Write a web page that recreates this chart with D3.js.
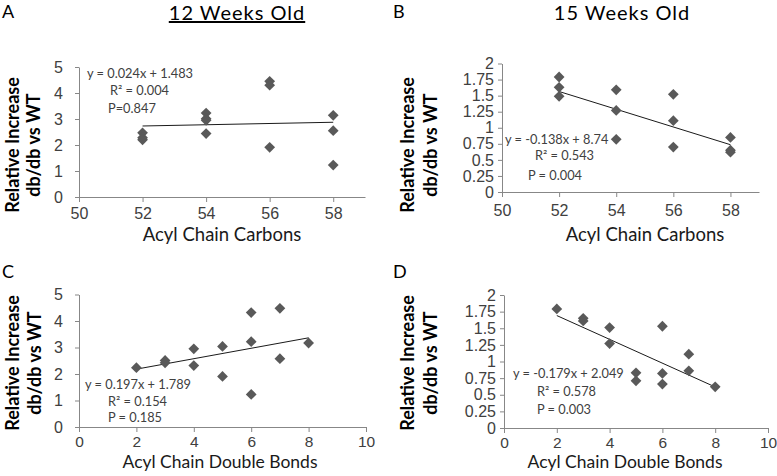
<!DOCTYPE html>
<html><head><meta charset="utf-8">
<script src="https://cdn.jsdelivr.net/npm/d3@7"></script>
<style>
html,body{margin:0;padding:0;background:#fff;}
svg{display:block;font-family:Lato,"Open Sans",sans-serif;}
</style></head>
<body><svg id="c" width="777" height="476"></svg>
<script>
// ---- data ----
const carbonsA = [52,52,52,54,54,54,54,56,56,56,58,58,58];
const valuesA  = [2.47,2.28,2.20,3.23,3.01,2.95,2.44,4.45,4.30,1.91,3.14,2.55,1.23];
const carbonsB = [52,52,52,54,54,54,56,56,56,58,58,58];
const valuesB  = [1.79,1.63,1.49,1.59,1.27,0.82,1.52,1.11,0.70,0.85,0.65,0.62];
const bondsC   = [2,3,3,4,4,5,5,6,6,6,7,7,8];
const valuesC  = [2.24,2.51,2.42,2.95,2.32,3.04,1.91,4.32,3.22,1.23,4.48,2.58,3.17];
const bondsD   = [2,3,3,4,4,5,5,6,6,6,7,7,8];
const valuesD  = [1.79,1.65,1.61,1.51,1.27,0.83,0.71,1.53,0.82,0.66,1.11,0.86,0.62];

const trendSlopes     = [0.024, -0.138, 0.197, -0.179];
const trendIntercepts = [1.483, 8.74, 1.789, 2.049];
const equationTexts = [
  ["y = 0.024x + 1.483", "R² = 0.004", "P=0.847"],
  ["y = -0.138x + 8.74", "R² = 0.543", "P = 0.004"],
  ["y = 0.197x + 1.789", "R² = 0.154", "P = 0.185"],
  ["y = -0.179x + 2.049", "R² = 0.578", "P = 0.003"]
];
const carbonTicks = [50,52,54,56,58];
const bondTicks   = [0,2,4,6,8,10];
const ticks5 = [0,1,2,3,4,5];
const ticks2 = [0,0.25,0.5,0.75,1,1.25,1.5,1.75,2];
const panelLetters = ["A","B","C","D"];
const columnTitles = ["12 Weeks Old","15 Weeks Old"];
const xTitles = ["Acyl Chain Carbons","Acyl Chain Carbons","Acyl Chain Double Bonds","Acyl Chain Double Bonds"];
const yTitleLines = ["Relative  Increase","db/db  vs WT"];

// ---- layout ----
const svg = d3.select("#c");
const axisColor = "#878787", textColor = "#404040", markColor = "#595959";

const panels = [
  {xs:carbonsA, ys:valuesA, xd:[50,59], yd:[0,5], xt:carbonTicks, yt:ticks5,
   x0:79, x1:365, y0:197, y1:67, eq:[[87,78],[110,95],[108,113]], ylx:[13,34], ylc:145, xlx:222, xly:241, xfs:18.5, letter:[2,18], tpad:12, xpad:6, tfs:16},
  {xs:carbonsB, ys:valuesB, xd:[50,59], yd:[0,2], xt:carbonTicks, yt:ticks2,
   x0:502, x1:759, y0:192, y1:63.5, eq:[[505,144],[535,160],[528,180]], ylx:[408,431], ylc:145, xlx:645, xly:241, xfs:18.5, letter:[393,18], tpad:4, xpad:8, tfs:16},
  {xs:bondsC, ys:valuesC, xd:[0,10], yd:[0,5], xt:bondTicks, yt:ticks5,
   x0:79, x1:366, y0:427, y1:294.5, eq:[[85,389],[108,406],[108,422]], ylx:[13,35], ylc:363, xlx:220, xly:468, xfs:17.5, letter:[2,278], tpad:12, xpad:4, tfs:15.5},
  {xs:bondsD, ys:valuesD, xd:[0,10], yd:[0,2], xt:bondTicks, yt:ticks2,
   x0:504, x1:768, y0:428, y1:295, eq:[[513,378],[537,396],[537,414]], ylx:[408,431], ylc:363, xlx:625, xly:468, xfs:17.5, letter:[393,278], tpad:4, xpad:4, tfs:15.5}
];

const diamond = d3.symbol().type(d3.symbolSquare).size(58)();

panels.forEach((p, i) => {
  const g = svg.append("g");
  const x = d3.scaleLinear().domain(p.xd).range([p.x0, p.x1]);
  const y = d3.scaleLinear().domain(p.yd).range([p.y0, p.y1]);

  // x axis
  const xa = g.append("g").attr("transform", `translate(0,${p.y0})`)
    .call(d3.axisBottom(x).tickValues(p.xt).tickSize(5).tickSizeOuter(0).tickPadding(p.xpad).tickFormat(d3.format("d")));
  xa.selectAll(".tick text").attr("font-size", p.tfs);
  // y axis
  const ya = g.append("g").attr("transform", `translate(${p.x0},0)`)
    .call(d3.axisLeft(y).tickValues(p.yt).tickSize(4).tickSizeOuter(0).tickPadding(p.tpad).tickFormat(d => String(d)));
  ya.selectAll(".tick text").attr("font-size", 16);
  [xa, ya].forEach(a => {
    a.select(".domain").attr("stroke", axisColor);
    a.selectAll(".tick line").attr("stroke", axisColor);
    a.selectAll(".tick text").attr("fill", textColor);
  });

  // trend line
  const xmin = d3.min(p.xs), xmax = d3.max(p.xs);
  const f = v => trendSlopes[i] * v + trendIntercepts[i];
  g.append("line")
    .attr("x1", x(xmin)).attr("y1", y(f(xmin)))
    .attr("x2", x(xmax)).attr("y2", y(f(xmax)))
    .attr("stroke", "#1a1a1a").attr("stroke-width", 1);

  // points
  g.selectAll("path.pt").data(p.xs.map((v, k) => [v, p.ys[k]])).join("path")
    .attr("class", "pt")
    .attr("d", diamond)
    .attr("transform", d => `translate(${x(d[0])},${y(d[1])}) rotate(45)`)
    .attr("fill", markColor);

  // equation
  equationTexts[i].forEach((t, k) => {
    g.append("text").attr("x", p.eq[k][0]).attr("y", p.eq[k][1])
      .attr("font-size", 12.8).attr("fill", textColor).text(t);
  });

  // axis titles
  g.append("text").attr("x", p.xlx).attr("y", p.xly).attr("text-anchor", "middle")
    .attr("font-size", p.xfs).attr("fill", "#1a1a1a").text(xTitles[i]);
  yTitleLines.forEach((t, k) => {
    g.append("text")
      .attr("transform", `translate(${p.ylx[k] + 6},${p.ylc}) rotate(-90)`)
      .attr("text-anchor", "middle").attr("font-size", 18).attr("font-weight", "bold")
      .attr("fill", "#000").text(t);
  });

  // panel letter
  g.append("text").attr("x", p.letter[0]).attr("y", p.letter[1])
    .attr("font-size", 18).attr("fill", "#000").text(panelLetters[i]);
});

// column titles
svg.append("text").attr("x", 237).attr("y", 20).attr("text-anchor", "middle")
  .attr("font-size", 20).attr("letter-spacing", 1).attr("fill", "#000").attr("text-decoration", "underline").text(columnTitles[0]);
svg.append("text").attr("x", 622).attr("y", 20).attr("text-anchor", "middle")
  .attr("font-size", 20).attr("letter-spacing", 1).attr("fill", "#000").text(columnTitles[1]);
</script>
</body></html>
